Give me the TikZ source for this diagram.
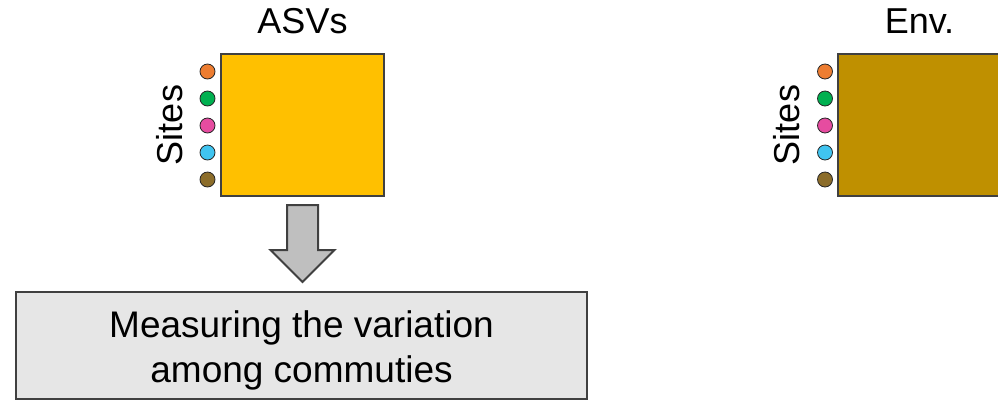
\documentclass[tikz,border=0pt]{standalone}
\usepackage{fontspec}
\setmainfont{Liberation Sans}
\definecolor{edge}{HTML}{404040}
\definecolor{asvgold}{HTML}{FFC000}
\definecolor{envgold}{HTML}{BF9000}
\definecolor{boxgray}{HTML}{E6E6E6}
\definecolor{arrowgray}{HTML}{BFBFBF}
\definecolor{dorange}{HTML}{ED7D31}
\definecolor{dgreen}{HTML}{00B050}
\definecolor{dpink}{HTML}{E64CA0}
\definecolor{dblue}{HTML}{40C4F0}
\definecolor{dbrown}{HTML}{8C6D2A}
\begin{document}
\begin{tikzpicture}[x=1pt,y=-1pt,
  matbox/.style={draw=edge,line width=2pt,rectangle,inner sep=0pt,minimum width=163pt,minimum height=142pt},
  lbl/.style={font=\fontsize{36}{45}\selectfont,inner sep=0pt},
  sitedot/.style={draw=black!85,line width=0.8pt,circle,inner sep=0pt,minimum size=15pt},
  measurebox/.style={draw=edge,line width=2pt,fill=boxgray,rectangle,inner sep=0pt,minimum width=571pt,minimum height=107pt},
  blockarrow/.style={draw=edge,line width=2pt,fill=arrowgray,line join=miter}
]
\useasboundingbox (0,0) rectangle (998,400);
\clip (0,0) rectangle (998,400);

% ASVs matrix
\node[matbox,fill=asvgold] (asv) at (302.5,125) {};
\node[lbl,anchor=base] (asvt) at (302.5,33) {ASVs};
\node[lbl,rotate=90,anchor=base] (asvs) at (182,125) {Sites};
\node[sitedot,fill=dorange] (a1) at (207.5,71.5) {};
\node[sitedot,fill=dgreen]  (a2) at (207.5,98.5) {};
\node[sitedot,fill=dpink]   (a3) at (207.5,125.5) {};
\node[sitedot,fill=dblue]   (a4) at (207.5,152.5) {};
\node[sitedot,fill=dbrown]  (a5) at (207.5,179.5) {};

% Env matrix
\node[matbox,fill=envgold] (env) at (919.5,125) {};
\node[lbl,anchor=base] (envt) at (919.5,33) {Env.};
\node[lbl,rotate=90,anchor=base] (envs) at (799,125) {Sites};
\node[sitedot,fill=dorange] (e1) at (825,71.5) {};
\node[sitedot,fill=dgreen]  (e2) at (825,98.5) {};
\node[sitedot,fill=dpink]   (e3) at (825,125.5) {};
\node[sitedot,fill=dblue]   (e4) at (825,152.5) {};
\node[sitedot,fill=dbrown]  (e5) at (825,179.5) {};

% measuring box
\node[measurebox] (meas) at (301.5,345) {};
\node[lbl,font=\fontsize{37}{45}\selectfont,align=center] (meast) at (301.5,350) {Measuring the variation\\among commuties};

% block arrow
\coordinate (ab) at (302.5,205);
\draw[blockarrow] ([xshift=-15.5pt]ab) -- ([xshift=15.5pt]ab) -- ([xshift=15.5pt,yshift=-45pt]ab)
  -- ([xshift=32pt,yshift=-45pt]ab) -- ([yshift=-77pt]ab) -- ([xshift=-32pt,yshift=-45pt]ab)
  -- ([xshift=-15.5pt,yshift=-45pt]ab) -- cycle;
\end{tikzpicture}
\end{document}
